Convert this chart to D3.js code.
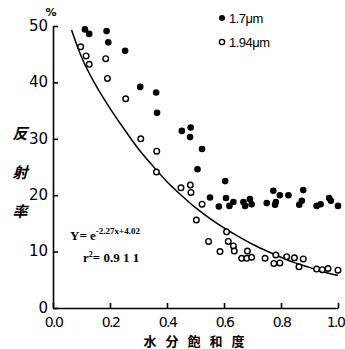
<!DOCTYPE html>
<html>
<head>
<meta charset="utf-8">
<script src="https://cdn.jsdelivr.net/npm/d3@7"></script>
<style>
  html, body { margin: 0; padding: 0; background: #fff; }
  svg { display: block; }
  .axis path, .axis line { stroke: #000; stroke-width: 1.6; }
  .axis text { font-family: "DejaVu Sans", sans-serif; font-size: 15px; fill: #000; }
  .axis.x text { font-size: 14px; }
</style>
</head>
<body>
<svg id="chart" width="345" height="349"></svg>
<script>
// saturation (x) and reflectance % (y)
var band17x = [0.112, 0.127, 0.188, 0.194, 0.253, 0.306, 0.362, 0.365, 0.452, 0.483, 0.481, 0.523, 0.507,
  0.604, 0.551, 0.582, 0.607, 0.619, 0.633, 0.668, 0.674, 0.691, 0.697, 0.750, 0.773, 0.779, 0.796, 0.782,
  0.826, 0.878, 0.873, 0.864, 0.925, 0.939, 0.969, 0.975, 1.0];
var band17y = [49.4, 48.6, 49.1, 47.1, 45.6, 39.2, 38.2, 34.6, 31.4, 32.0, 30.3, 28.2, 24.6,
  22.5, 19.6, 18.0, 19.5, 18.1, 18.8, 18.8, 18.1, 19.3, 18.4, 18.6, 20.8, 18.3, 20.0, 18.8,
  20.0, 20.9, 19.0, 18.3, 18.1, 18.4, 19.5, 19.0, 18.1];

var band194x = [0.097, 0.116, 0.127, 0.185, 0.191, 0.255, 0.308, 0.364, 0.363, 0.449, 0.482, 0.484, 0.523,
  0.503, 0.609, 0.546, 0.615, 0.633, 0.636, 0.586, 0.682, 0.662, 0.680, 0.697, 0.744, 0.782, 0.775, 0.796,
  0.820, 0.847, 0.863, 0.878, 0.925, 0.945, 0.965, 1.0];
var band194y = [46.3, 44.7, 43.2, 44.2, 40.7, 37.1, 30.0, 27.8, 24.1, 21.3, 21.8, 20.5, 18.4,
  15.6, 13.5, 11.8, 11.8, 11.0, 10.1, 10.0, 10.1, 8.8, 8.8, 9.0, 8.8, 9.4, 7.9, 8.0,
  9.1, 8.9, 7.3, 8.7, 6.9, 6.8, 7.0, 6.7];

// regression curve (1.94um)
var fitX = [0.065, 0.1, 0.15, 0.2, 0.25, 0.3, 0.35, 0.4, 0.45, 0.5, 0.55, 0.6, 0.65, 0.7, 0.75, 0.8, 0.85, 0.9, 0.95, 1.0];
var fitY = [49.3, 44.5, 39.5, 35.4, 31.7, 28.2, 25.2, 22.4, 20.0, 17.8, 15.9, 14.2, 12.7, 11.3, 10.1, 9.0, 8.0, 7.2, 6.4, 5.8];

var xTicks = [0, 0.2, 0.4, 0.6, 0.8, 1.0];
var yTicks = [0, 10, 20, 30, 40, 50];
var legendLabels = ["1.7\u03bcm", "1.94\u03bcm"];
var yTitle = ["反", "射", "率"];
var xTitle = ["水", "分", "飽", "和", "度"];

var svg = d3.select("#chart");

var x = d3.scaleLinear().domain([0, 1]).range([53, 338]);
var y = d3.scaleLinear().domain([0, 50]).range([308, 26]);

// axes, ticks point inward
var xAxis = d3.axisBottom(x).tickValues(xTicks).tickFormat(d3.format(".1f"))
  .tickSizeInner(-5).tickSizeOuter(0).tickPadding(9);
var yAxis = d3.axisLeft(y).tickValues(yTicks).tickFormat(d3.format("d"))
  .tickSizeInner(-5).tickSizeOuter(0).tickPadding(5);

svg.append("g").attr("class", "axis x")
  .attr("transform", "translate(0," + y(0) + ")")
  .call(xAxis)
  .selectAll("text")
  .attr("letter-spacing", "-1.5")
  .attr("dx", function(d) { return d === 1 ? -3 : 0; });   // keep 1.0 inside the frame

svg.append("g").attr("class", "axis y")
  .attr("transform", "translate(" + x(0) + ",0)")
  .call(yAxis)
  .selectAll("text").attr("dy", "0.28em");

// unit above the y axis
svg.append("text").attr("x", x(0) - 2).attr("y", y(50) - 10)
  .attr("text-anchor", "middle")
  .attr("font-family", "DejaVu Sans, sans-serif").attr("font-size", 11).attr("font-weight", "bold")
  .text("%");

// y title, stacked characters
svg.append("g").selectAll("text").data(yTitle).enter().append("text")
  .attr("x", 20)
  .attr("y", function(d, i) { return 139 + i * 39; })
  .attr("text-anchor", "middle")
  .attr("font-family", "Noto Sans CJK JP, sans-serif").attr("font-size", 15).attr("font-weight", "bold")
  .attr("font-style", "italic")
  .text(function(d) { return d; });

// x title
svg.append("g").selectAll("text").data(xTitle).enter().append("text")
  .attr("x", function(d, i) { return 150 + i * 22; })
  .attr("y", 346)
  .attr("text-anchor", "middle")
  .attr("font-family", "Noto Sans CJK JP, sans-serif").attr("font-size", 13).attr("font-weight", "bold")
  .text(function(d) { return d; });

// fitted curve
var fitData = fitX.map(function(v, i) { return [v, fitY[i]]; });
var line = d3.line()
  .curve(d3.curveMonotoneX)
  .x(function(d) { return x(d[0]); })
  .y(function(d) { return y(d[1]); });

svg.append("path").datum(fitData)
  .attr("d", line)
  .attr("fill", "none").attr("stroke", "#000").attr("stroke-width", 1.5);

// 1.94um open circles
var open = band194x.map(function(v, i) { return [v, band194y[i]]; });
svg.append("g").selectAll("circle").data(open).enter().append("circle")
  .attr("cx", function(d) { return x(d[0]); })
  .attr("cy", function(d) { return y(d[1]); })
  .attr("r", 2.8)
  .attr("fill", "#fff").attr("stroke", "#000").attr("stroke-width", 1.4);

// 1.7um filled dots
var filled = band17x.map(function(v, i) { return [v, band17y[i]]; });
svg.append("g").selectAll("circle").data(filled).enter().append("circle")
  .attr("cx", function(d) { return x(d[0]); })
  .attr("cy", function(d) { return y(d[1]); })
  .attr("r", 3.3)
  .attr("fill", "#000");

// legend
var legend = svg.append("g").attr("transform", "translate(222,18)");
legend.append("circle").attr("cx", 0).attr("cy", 0).attr("r", 3).attr("fill", "#000");
legend.append("circle").attr("cx", 0).attr("cy", 24).attr("r", 2.6)
  .attr("fill", "#fff").attr("stroke", "#000").attr("stroke-width", 1.4);
legend.selectAll("text").data(legendLabels).enter().append("text")
  .attr("x", 7)
  .attr("y", function(d, i) { return 5 + i * 24; })
  .attr("font-family", "Liberation Sans, sans-serif").attr("font-size", 13)
  .attr("letter-spacing", "-0.5")
  .text(function(d) { return d; });

// equation
var eq = svg.append("text").attr("x", 70).attr("y", 240)
  .attr("font-family", "Liberation Serif, serif").attr("font-size", 13).attr("font-weight", "bold");
eq.append("tspan").text("Y= e");
eq.append("tspan").attr("dy", -6).attr("font-size", 9).text("-2.27x+4.02");

var r2 = svg.append("text").attr("x", 83).attr("y", 262)
  .attr("font-family", "Liberation Serif, serif").attr("font-size", 13).attr("font-weight", "bold");
r2.append("tspan").text("r");
r2.append("tspan").attr("dy", -5).attr("font-size", 8).text("2");
r2.append("tspan").attr("dy", 5).text("= 0.9 1 1");
</script>
</body>
</html>
